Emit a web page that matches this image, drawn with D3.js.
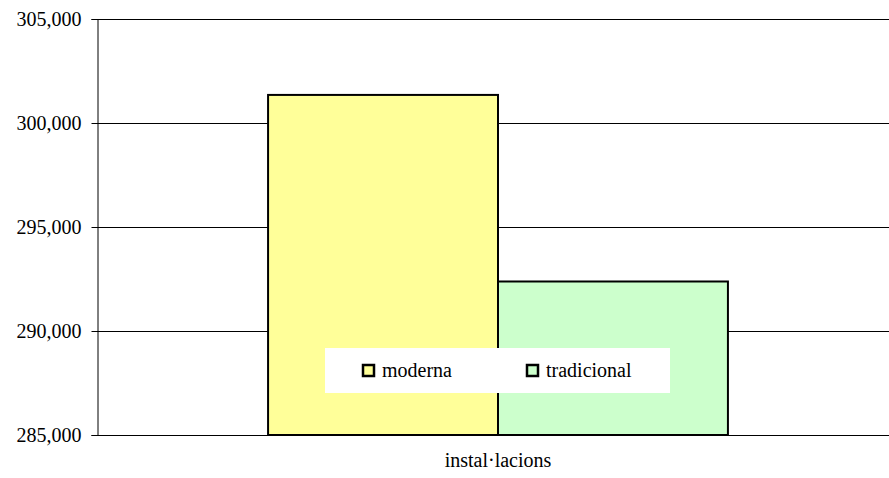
<!DOCTYPE html>
<html>
<head>
<meta charset="utf-8">
<script src="https://cdn.jsdelivr.net/npm/d3@7"></script>
<style>
  body { margin: 0; background: #fff; }
  svg { display: block; }
  svg text { font-family: "Times New Roman", "Liberation Serif", Times, "DejaVu Serif", serif !important; }
</style>
</head>
<body>
<svg width="889" height="478"></svg>
<script>
const categories = ['instal·lacions'];
const series = ['moderna', 'tradicional'];
const seriesValues = [301350, 292380];
const seriesColors = ['#ffff99', '#ccffcc'];
const yTicks = [285000, 290000, 295000, 300000, 305000];

const svg = d3.select('svg');
const margin = { left: 97, top: 19, right: -10, bottom: 43 };
const width = 889 - margin.left - margin.right;
const height = 478 - margin.top - margin.bottom;

const g = svg.append('g').attr('transform', `translate(${margin.left},${margin.top})`);

const y = d3.scaleLinear().domain([285000, 305000]).range([height, 0]);
const x = d3.scaleBand().domain(categories).range([0, width]).paddingInner(0).paddingOuter(0.372);
const xs = d3.scaleBand().domain(series).range([0, x.bandwidth()]);

// gridlines
g.append('g')
  .selectAll('line')
  .data(yTicks.slice(1))
  .enter()
  .append('line')
  .attr('x1', 0)
  .attr('x2', width)
  .attr('y1', d => Math.round(y(d)) + 0.5)
  .attr('y2', d => Math.round(y(d)) + 0.5)
  .attr('stroke', '#000')
  .attr('stroke-width', 1);

// bars
const cat = g.append('g').attr('transform', `translate(${x(categories[0])},0)`);
cat.selectAll('rect')
  .data(seriesValues)
  .enter()
  .append('rect')
  .attr('x', (d, i) => xs(series[i]))
  .attr('y', d => y(d))
  .attr('width', xs.bandwidth())
  .attr('height', d => height - y(d))
  .attr('fill', (d, i) => seriesColors[i])
  .attr('stroke', '#000')
  .attr('stroke-width', 2);

// y axis
const yAxis = g.append('g')
  .attr('transform', 'translate(0.5,0)')
  .call(d3.axisLeft(y).tickValues(yTicks).tickSize(6).tickPadding(10).tickFormat(d3.format(',')));
yAxis.select('.domain').attr('stroke', '#000');
yAxis.selectAll('.tick line').attr('stroke', '#000');
yAxis.selectAll('.tick text')
  .attr('font-size', 20)
  .attr('fill', '#000');

// x axis baseline
g.append('line')
  .attr('x1', 0).attr('x2', width)
  .attr('y1', height + 0.5).attr('y2', height + 0.5)
  .attr('stroke', '#000');

// category label
g.append('text')
  .attr('x', x(categories[0]) + x.bandwidth() / 2)
  .attr('y', height + 32)
  .attr('text-anchor', 'middle')
  .attr('font-size', 20)
  .text(categories[0]);

// legend
const legend = svg.append('g').attr('transform', 'translate(325,348)');
legend.append('rect')
  .attr('width', 345).attr('height', 45)
  .attr('fill', '#fff');
const items = legend.selectAll('g.item')
  .data(series)
  .enter()
  .append('g')
  .attr('class', 'item')
  .attr('transform', (d, i) => `translate(${38 + i * 164},0)`);
items.append('rect')
  .attr('x', 0).attr('y', 17)
  .attr('width', 11).attr('height', 11)
  .attr('fill', (d, i) => seriesColors[i])
  .attr('stroke', '#000')
  .attr('stroke-width', 2.5);
items.append('text')
  .attr('x', 19).attr('y', 29)
  .attr('font-size', 20)
  .text(d => d);
</script>
</body>
</html>
